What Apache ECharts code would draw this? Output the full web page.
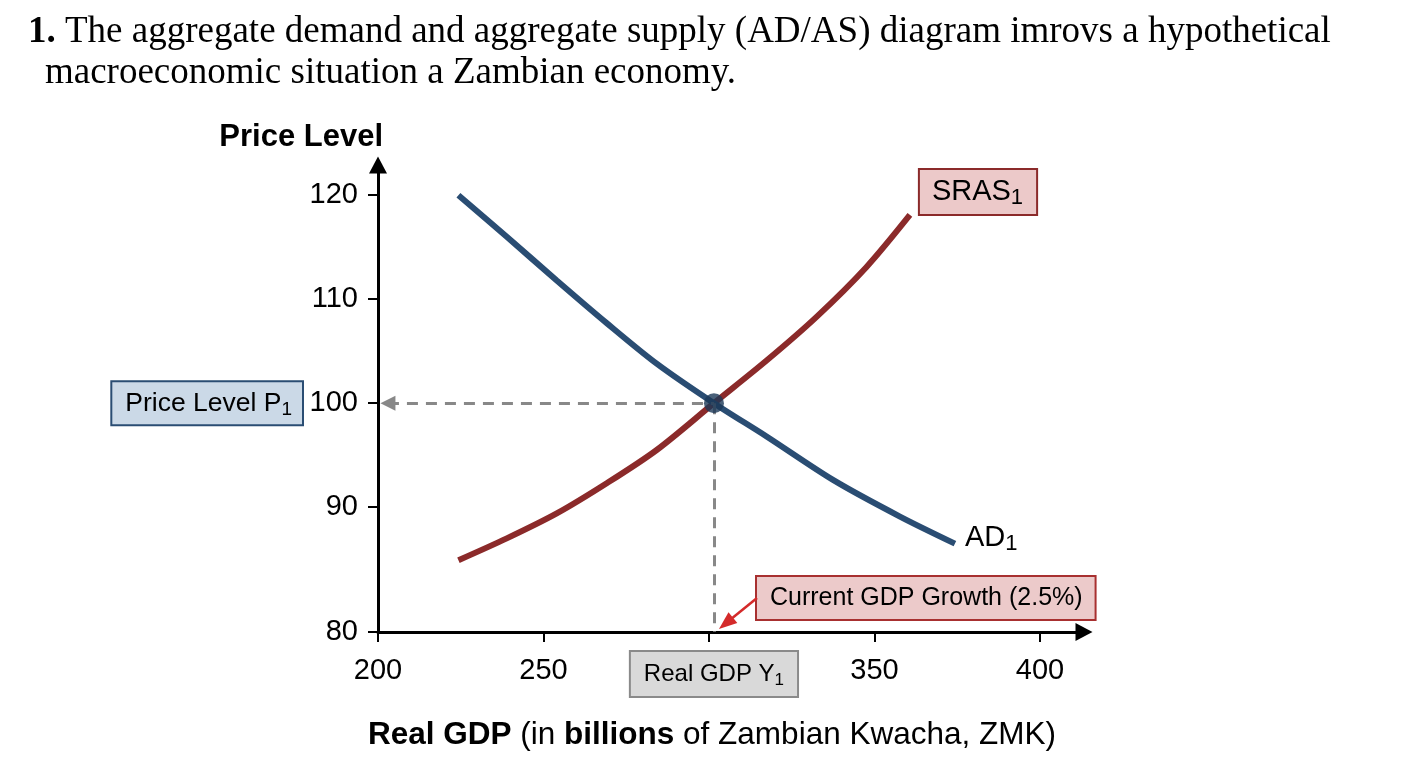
<!DOCTYPE html>
<html>
<head>
<meta charset="utf-8">
<script src="https://cdn.jsdelivr.net/npm/echarts@6/dist/echarts.min.js"></script>
<style>
  html, body { margin: 0; padding: 0; background: #fff; }
  #chart { width: 1408px; height: 768px; }
</style>
</head>
<body>
<div id="chart"></div>
<script>
// Curve points [real GDP, price level]
var adPoints = [
    [224.3, 120.0], [238.9, 116.0], [254.0, 111.8], [269.1, 107.7], [284.2, 103.8],
    [301.5, 100.0], [317.4, 96.8], [337.6, 92.6], [357.7, 89.1], [374.3, 86.5]
];
var srasPoints = [
    [224.3, 84.9], [238.9, 87.0], [254.0, 89.4], [269.1, 92.3], [284.2, 95.5],
    [301.5, 100.0], [317.4, 104.1], [332.5, 108.3], [347.6, 113.1], [360.7, 118.1]
];
var equilibrium = [301.5, 100];

// Axis ticks (the bottom of the price axis is drawn as "80")
var xTicks = [200, 250, 300, 350, 400];
var yTicks = [78, 90, 100, 110, 120];
var yTickLabels = ['80', '90', '100', '110', '120'];

var sans = '"Liberation Sans", Arial, sans-serif';
var serif = '"Liberation Serif", "Times New Roman", serif';

var myChart = echarts.init(document.getElementById('chart'));

var option = {
    backgroundColor: '#fff',
    animation: false,
    grid: { left: 378, top: 165, right: 324, bottom: 136 },
    xAxis: {
        type: 'value',
        min: 200,
        max: 413.3,
        splitLine: { show: false },
        axisLine: {
            lineStyle: { color: '#000', width: 3 },
            symbol: ['none', 'triangle'],
            symbolSize: [18, 17]
        },
        axisTick: { customValues: xTicks, length: 10, lineStyle: { width: 2, color: '#000' } },
        axisLabel: {
            customValues: xTicks,
            margin: 24,
            fontSize: 29,
            fontFamily: sans,
            color: '#000'
        }
    },
    yAxis: {
        type: 'value',
        min: 78,
        max: 122.9,
        splitLine: { show: false },
        axisLine: {
            lineStyle: { color: '#000', width: 3 },
            symbol: ['none', 'triangle'],
            symbolSize: [18, 17]
        },
        axisTick: { customValues: yTicks, length: 10, lineStyle: { width: 2, color: '#000' } },
        axisLabel: {
            customValues: yTicks,
            margin: 20,
            fontSize: 29,
            fontFamily: sans,
            color: '#000',
            formatter: function (v) {
                return yTickLabels[yTicks.indexOf(v)];
            }
        }
    },
    series: [
        {
            name: 'guides',
            type: 'line',
            data: [],
            silent: true,
            markLine: {
                silent: true,
                symbol: ['none', 'none'],
                label: { show: false },
                lineStyle: { color: '#888', width: 3, type: [11, 8] },
                data: [
                    [
                        { coord: [203, equilibrium[1]], symbol: 'triangle', symbolSize: [15, 15] },
                        { coord: equilibrium }
                    ],
                    [
                        { coord: equilibrium },
                        { coord: [equilibrium[0], 78] }
                    ]
                ]
            }
        },
        {
            name: 'SRAS1',
            type: 'line',
            smooth: 0.3,
            showSymbol: false,
            data: srasPoints,
            lineStyle: { color: '#8b2a2a', width: 6 },
            itemStyle: { color: '#8b2a2a' }
        },
        {
            name: 'AD1',
            type: 'line',
            smooth: 0.3,
            showSymbol: false,
            data: adPoints,
            lineStyle: { color: '#2a4d73', width: 6 },
            itemStyle: { color: '#2a4d73' }
        },
        {
            name: 'equilibrium',
            type: 'scatter',
            data: [equilibrium],
            symbolSize: 20,
            itemStyle: { color: '#1b3857' },
            z: 5
        }
    ]
};
myChart.setOption(option);

// Annotations placed relative to the data
var eq = myChart.convertToPixel('grid', equilibrium);
var origin = myChart.convertToPixel('grid', [200, 78]);
var adEnd = myChart.convertToPixel('grid', adPoints[adPoints.length - 1]);
var srasEnd = myChart.convertToPixel('grid', srasPoints[srasPoints.length - 1]);

function subRich(size, subSize, lh, subLh) {
    return {
        m: { fontSize: size, fontFamily: sans, color: '#000', lineHeight: lh },
        s: { fontSize: subSize, fontFamily: sans, color: '#000', lineHeight: subLh, verticalAlign: 'bottom' }
    };
}

var arrowFrom = [757, 598];
var arrowTip = [eq[0] + 5, origin[1] - 3];

myChart.setOption({
    graphic: [
        {
            type: 'text',
            x: 28,
            y: 32,
            style: {
                text: '{b|1.} The aggregate demand and aggregate supply (AD/AS) diagram imrovs a hypothetical',
                rich: {
                    b: { fontFamily: serif, fontWeight: 'bold', fontSize: 37, fill: '#000' }
                },
                font: '37px ' + serif,
                fill: '#000',
                verticalAlign: 'middle'
            }
        },
        {
            type: 'text',
            x: 45,
            y: 73,
            style: {
                text: 'macroeconomic situation a Zambian economy.',
                font: '37px ' + serif,
                fill: '#000',
                verticalAlign: 'middle'
            }
        },
        {
            type: 'text',
            x: origin[0] + 5,
            y: 137,
            style: {
                text: 'Price Level',
                font: 'bold 31px ' + sans,
                fill: '#000',
                align: 'right',
                verticalAlign: 'middle'
            }
        },
        {
            type: 'text',
            x: 712,
            y: 735,
            style: {
                text: '{b|Real GDP} (in {b|billions} of Zambian Kwacha, ZMK)',
                font: '31.5px ' + sans,
                fill: '#000',
                align: 'center',
                verticalAlign: 'middle',
                rich: { b: { fontSize: 31.5, fontWeight: 'bold', fontFamily: sans } }
            }
        },
        {
            type: 'text',
            x: origin[0] - 76,
            y: eq[1],
            z: 10,
            style: {
                text: '{m|Price Level P}{s|1}',
                rich: subRich(26.5, 19, 31, 12),
                align: 'right',
                verticalAlign: 'middle',
                backgroundColor: '#cbd9e7',
                borderColor: '#2a4d73',
                borderWidth: 2,
                padding: [6, 10, 5, 13]
            }
        },
        {
            type: 'text',
            x: eq[0],
            y: 674,
            z: 10,
            style: {
                text: '{m|Real GDP Y}{s|1}',
                rich: subRich(24, 17, 30, 12),
                align: 'center',
                verticalAlign: 'middle',
                backgroundColor: '#d9d9d9',
                borderColor: '#8a8a8a',
                borderWidth: 2,
                padding: [7, 13, 7, 13]
            }
        },
        {
            type: 'text',
            x: 757,
            y: 598,
            z: 10,
            style: {
                text: 'Current GDP Growth (2.5%)',
                font: '25px ' + sans,
                fill: '#000',
                align: 'left',
                verticalAlign: 'middle',
                backgroundColor: '#eccaca',
                borderColor: '#a83030',
                borderWidth: 2,
                padding: [9, 12, 8, 13]
            }
        },
        {
            type: 'line',
            z: 10,
            shape: { x1: arrowFrom[0], y1: arrowFrom[1], x2: arrowTip[0] + 6, y2: arrowTip[1] - 5 },
            style: { stroke: '#d42a2a', lineWidth: 2.5 }
        },
        {
            type: 'polygon',
            z: 10,
            shape: {
                points: (function () {
                    var ang = Math.atan2(arrowFrom[1] - arrowTip[1], arrowFrom[0] - arrowTip[0]);
                    var len = 18, half = 7;
                    var bx = arrowTip[0] + Math.cos(ang) * len, by = arrowTip[1] + Math.sin(ang) * len;
                    var nx = -Math.sin(ang) * half, ny = Math.cos(ang) * half;
                    return [arrowTip, [bx + nx, by + ny], [bx - nx, by - ny]];
                })()
            },
            style: { fill: '#d42a2a' }
        },
        {
            type: 'text',
            x: srasEnd[0] + 10,
            y: 192,
            z: 10,
            style: {
                text: '{m|SRAS}{s|1}',
                rich: subRich(29, 22, 34, 13),
                align: 'left',
                verticalAlign: 'middle',
                backgroundColor: '#ecc9c9',
                borderColor: '#8b2a2a',
                borderWidth: 2,
                padding: [5, 13, 5, 12]
            }
        },
        {
            type: 'text',
            x: adEnd[0] + 10,
            y: adEnd[1] - 6,
            z: 10,
            style: {
                text: '{m|AD}{s|1}',
                rich: subRich(29, 22, 34, 13),
                align: 'left',
                verticalAlign: 'middle'
            }
        }
    ]
});
</script>
</body>
</html>
